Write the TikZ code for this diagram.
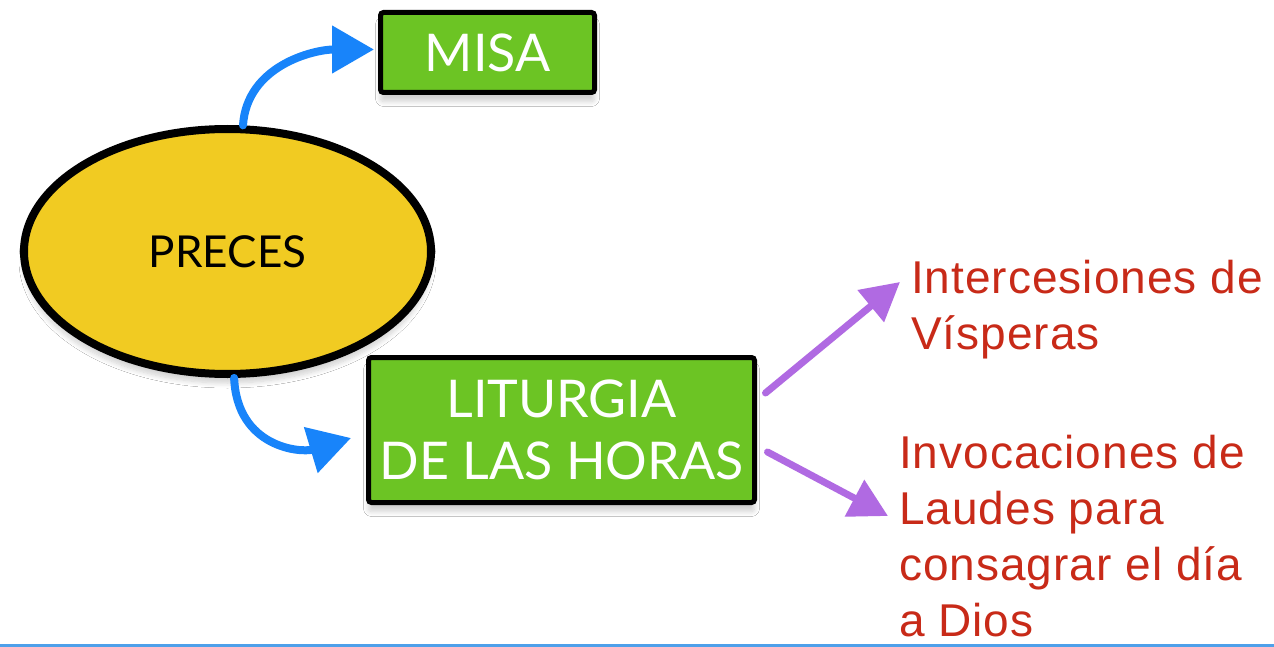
\documentclass[tikz,border=0pt]{standalone}
\usepackage{fontspec}
\setmainfont{Liberation Sans}
\newfontfamily\boxfont{Lato}
\newfontfamily\redfont[LetterSpace=2.2]{Liberation Sans}
\usetikzlibrary{arrows.meta,shapes.geometric,shadows.blur}
\definecolor{boxgreen}{RGB}{108,196,36}
\definecolor{ellyellow}{RGB}{241,203,34}
\definecolor{arrowblue}{RGB}{24,132,250}
\definecolor{arrowpurple}{RGB}{176,106,226}
\definecolor{textred}{RGB}{200,42,24}
\definecolor{lineblue}{RGB}{78,160,234}
\tikzset{
  softshadow/.style={blur shadow={shadow xshift=0pt, shadow yshift=-9pt, shadow blur steps=8, shadow opacity=18, shadow blur radius=5pt}},
  greenbox/.style={draw=black, line width=5pt, fill=boxgreen, rounded corners=3pt, text=white,
    font=\boxfont\fontsize{52}{62}\selectfont, align=center, inner sep=0pt, softshadow},
  bubble/.style={ellipse, draw=black, line width=8pt, fill=ellyellow, inner sep=0pt,
    font=\boxfont\fontsize{44}{50}\selectfont, softshadow},
  redtext/.style={text=textred, font=\redfont\fontsize{46}{56}\selectfont, align=left, inner sep=0pt, anchor=north west},
  bluearrow/.style={draw=arrowblue, line width=8pt, line cap=round, -{Triangle[length=42pt,width=46pt]}},
  purplearrow/.style={draw=arrowpurple, line width=7pt, line cap=round, -{Triangle[length=38pt,width=40pt]}}
}
\begin{document}
\begin{tikzpicture}[x=1pt,y=-1pt]
\useasboundingbox (0,0) rectangle (1274,647);
\fill[white] (0,0) rectangle (1274,647);

\node[bubble, minimum width=407pt, minimum height=245pt] (preces) at (227.5,251.5) {PRECES};
\node[greenbox, minimum width=214pt, minimum height=80pt] (misa) at (487.5,52.5) {MISA};
\node[greenbox, minimum width=386pt, minimum height=145pt] (lit) at (561.5,430) {LITURGIA\\DE LAS HORAS};

\node[redtext] (inter) at (911,260) {Intercesiones de\\Vísperas};
\node[redtext] (invoc) at (899,435) {Invocaciones de\\Laudes para\\consagrar el día\\a Dios};

\draw[bluearrow] (preces.83) .. controls +(4,-60) and +(-60,0) .. ([xshift=-4pt,yshift=3pt]misa.west);
\draw[bluearrow] (preces.-87) .. controls +(3,70) and +(-50,15) .. ([xshift=-15pt,yshift=-8pt]lit.west);

\draw[purplearrow] ([xshift=8.5pt,yshift=37pt]lit.east) -- ([xshift=-11pt,yshift=-22pt]inter.north west);
\draw[purplearrow] ([xshift=10.5pt,yshift=-22pt]lit.east) -- ([xshift=-11pt,yshift=-81pt]invoc.north west);

\draw[lineblue, line width=3pt] (0,645.5) -- (1274,645.5);
\end{tikzpicture}
\end{document}
